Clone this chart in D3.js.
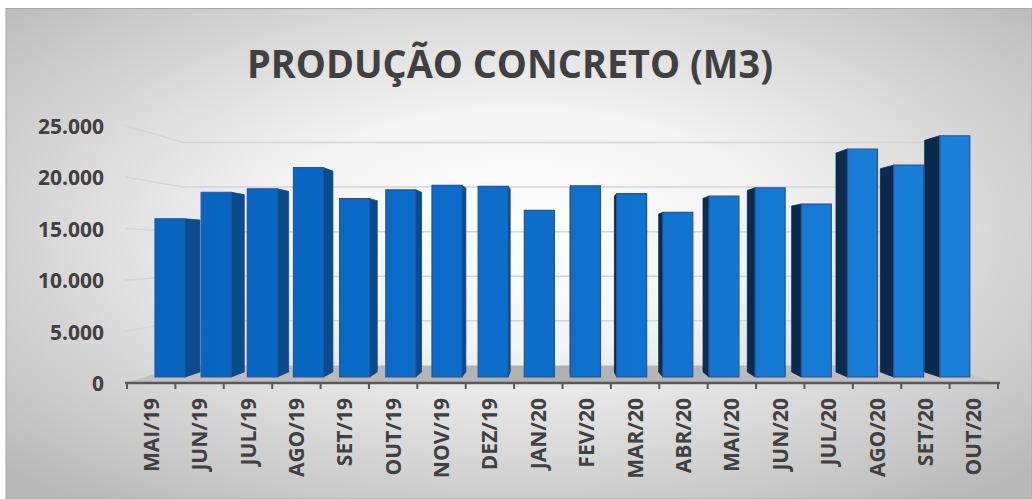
<!DOCTYPE html>
<html>
<head>
<meta charset="utf-8">
<script src="https://cdn.jsdelivr.net/npm/d3@7"></script>
<style>
  body { margin: 0; background: #ffffff; }
  text { font-family: "Open Sans", sans-serif; font-weight: bold; fill: #404040; }
</style>
</head>
<body>
<div class="chart"></div>
<script>
// Data
var months = ["MAI/19", "JUN/19", "JUL/19", "AGO/19", "SET/19", "OUT/19", "NOV/19", "DEZ/19", "JAN/20",
  "FEV/20", "MAR/20", "ABR/20", "MAI/20", "JUN/20", "JUL/20", "AGO/20", "SET/20", "OUT/20"];
var producao = [16100, 18800, 19150, 21300, 18150, 19050, 19500, 19400, 16950,
  19450, 18650, 16750, 18400, 19250, 17600, 23200, 21550, 24550];
var yTicks = [0, 5000, 10000, 15000, 20000, 25000];

var svgWidth = 1032;
var svgHeight = 499;

// fake 3D: everything is laid out on the front plane and then pulled toward a vanishing point
var vp = [560, 252];
var rFront = 0.954;   // bar front faces
var rBack = 0.916;    // bar back faces
var rWall = 0.866;    // back wall

function proj(x, y, r) {
  return [vp[0] + (x - vp[0]) * r, vp[1] + (y - vp[1]) * r];
}

var svg = d3.select(".chart")
  .append("svg")
  .attr("width", svgWidth)
  .attr("height", svgHeight);

var defs = svg.append("defs");

var bg = defs.append("radialGradient")
  .attr("id", "bg")
  .attr("cx", "50%").attr("cy", "45%").attr("r", "70%");
bg.append("stop").attr("offset", "0%").attr("stop-color", "#ffffff");
bg.append("stop").attr("offset", "35%").attr("stop-color", "#f3f3f3");
bg.append("stop").attr("offset", "100%").attr("stop-color", "#b9b9b9");

var frontGrad = defs.append("linearGradient")
  .attr("id", "front")
  .attr("gradientUnits", "userSpaceOnUse")
  .attr("x1", 150).attr("y1", 0).attr("x2", 980).attr("y2", 0);
frontGrad.append("stop").attr("offset", "0%").attr("stop-color", "#0863c0");
frontGrad.append("stop").attr("offset", "50%").attr("stop-color", "#0d6fcc");
frontGrad.append("stop").attr("offset", "100%").attr("stop-color", "#1a82da");

var floorGrad = defs.append("linearGradient")
  .attr("id", "floor")
  .attr("x1", 0).attr("y1", 0).attr("x2", 1).attr("y2", 0);
floorGrad.append("stop").attr("offset", "0%").attr("stop-color", "#c2c2c2");
floorGrad.append("stop").attr("offset", "50%").attr("stop-color", "#b0b0b0");
floorGrad.append("stop").attr("offset", "100%").attr("stop-color", "#c6c6c6");

// chart area
svg.append("rect")
  .attr("x", 6).attr("y", 8.5)
  .attr("width", svgWidth - 6).attr("height", svgHeight - 8.5)
  .attr("fill", "url(#bg)")
  .attr("stroke", "#a6a6a6")
  .attr("stroke-width", 1);

// title
svg.append("text")
  .attr("x", 510)
  .attr("y", 78)
  .attr("text-anchor", "middle")
  .attr("font-size", 39)
  .attr("textLength", 526)
  .attr("lengthAdjust", "spacingAndGlyphs")
  .text("PRODUÇÃO CONCRETO (M3)");

// scales
var xBand = d3.scaleBand()
  .domain(months)
  .range([127, 998]);

var xBar = d3.scaleBand()
  .domain(months)
  .range([127, 998])
  .paddingInner(0.35)
  .paddingOuter(0.175);

var y = d3.scaleLinear()
  .domain([0, 25000])
  .range([383, 125.5]);

var wallLeft = 125;
var wallRight = 1000;

// floor
var floorPts = [proj(wallLeft, y(0), 1), proj(wallRight, y(0), 1),
  proj(wallRight, y(0), rWall), proj(wallLeft, y(0), rWall)];
svg.append("polygon")
  .attr("points", floorPts.map(p => p.join(",")).join(" "))
  .attr("fill", "url(#floor)");

// gridlines: left wall + back wall
var grid = svg.append("g");
grid.selectAll("path")
  .data(yTicks.filter(d => d > 0))
  .enter()
  .append("path")
  .attr("d", function(d) {
    var a = proj(wallLeft, y(d), 1);
    var b = proj(wallLeft, y(d), rWall);
    var c = proj(wallRight, y(d), rWall);
    return "M" + a + "L" + b + "L" + c;
  })
  .attr("fill", "none")
  .attr("stroke", "#d4d4d4")
  .attr("stroke-width", 1.5);

// bars - side faces first, fronts on top
var bars = producao.map(function(v, i) {
  return { month: months[i], value: v };
});

function sidePoints(d) {
  var x0 = xBar(d.month);
  var x1 = x0 + xBar.bandwidth();
  var ex = (x1 < vp[0]) ? x1 : x0;
  var pts = [proj(ex, y(d.value), rFront), proj(ex, y(d.value), rBack),
    proj(ex, y(0), rBack), proj(ex, y(0), rFront)];
  return pts.map(p => p.join(",")).join(" ");
}

svg.append("g")
  .selectAll("polygon")
  .data(bars.filter(function(d) {
    var x0 = xBar(d.month);
    var x1 = x0 + xBar.bandwidth();
    return x1 < vp[0] || x0 > vp[0];
  }))
  .enter()
  .append("polygon")
  .attr("points", sidePoints)
  .attr("fill", d => xBar(d.month) > vp[0] ? "#0b2b4d" : "#0b4a8c")
  .attr("stroke", d => xBar(d.month) > vp[0] ? "#0b2b4d" : "#0b4a8c")
  .attr("stroke-width", 0.8);

svg.append("g")
  .selectAll("polygon")
  .data(bars)
  .enter()
  .append("polygon")
  .attr("points", function(d) {
    var x0 = xBar(d.month);
    var x1 = x0 + xBar.bandwidth();
    var pts = [proj(x0, y(d.value), rFront), proj(x1, y(d.value), rFront),
      proj(x1, y(0), rFront), proj(x0, y(0), rFront)];
    return pts.map(p => p.join(",")).join(" ");
  })
  .attr("fill", "url(#front)")
  .attr("stroke", "#24559c")
  .attr("stroke-width", 1.2);

// y axis labels
var ptBR = d3.formatLocale({ decimal: ",", thousands: ".", grouping: [3], currency: ["R$", ""] });
var leftAxis = d3.axisLeft(y)
  .tickValues(yTicks)
  .tickSize(0)
  .tickPadding(0)
  .tickFormat(ptBR.format(",d"));

var yAxisG = svg.append("g")
  .attr("transform", "translate(104, 0)")
  .call(leftAxis);
yAxisG.select(".domain").remove();
yAxisG.selectAll("text")
  .attr("font-family", null)
  .attr("font-size", null)
  .style("font-size", "21px")
  .attr("dy", "0.36em");

// x axis
var bottomAxis = d3.axisBottom(xBand).tickSize(0);
var xAxisG = svg.append("g")
  .attr("transform", "translate(0, 383)")
  .call(bottomAxis);
xAxisG.select(".domain").remove();
xAxisG.selectAll("text")
  .style("font-size", "21px")
  .attr("transform", "rotate(-90)")
  .attr("x", -15)
  .attr("y", 0)
  .attr("dy", "0.36em")
  .style("text-anchor", "end");

// axis line + boundary ticks
svg.append("line")
  .attr("x1", wallLeft).attr("x2", wallRight)
  .attr("y1", 383).attr("y2", 383)
  .attr("stroke", "#595959")
  .attr("stroke-width", 2.5);

var bounds = months.map(m => xBand(m)).concat([xBand.range()[1]]);
svg.append("g")
  .selectAll("line")
  .data(bounds)
  .enter()
  .append("line")
  .attr("x1", d => d).attr("x2", d => d)
  .attr("y1", 383).attr("y2", 389)
  .attr("stroke", "#595959")
  .attr("stroke-width", 2);
</script>
</body>
</html>
